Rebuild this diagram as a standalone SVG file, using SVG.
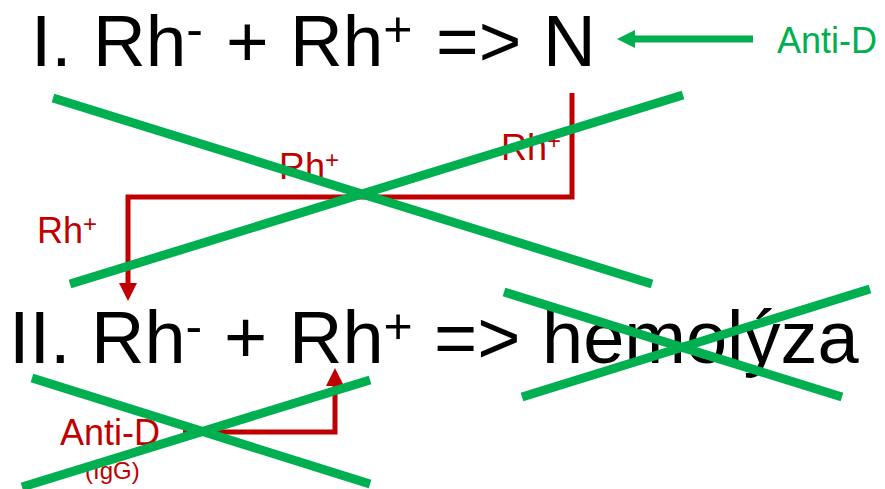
<svg xmlns="http://www.w3.org/2000/svg" width="885" height="489" viewBox="0 0 885 489">
  <style>
    .t { font-family: "Liberation Sans", Arial, sans-serif; }
    .big { font-size: 74px; fill: #000; }
    .big1 { font-size: 73px; fill: #000; }
    .sup { font-size: 50px; }
    .red { fill: #C00000; font-size: 36px; }
    .rsup { font-size: 24px; }
    .grn { fill: #00B050; font-size: 36px; }
    .rline { fill: none; stroke: #C00000; stroke-width: 5; stroke-linejoin: miter; stroke-linecap: butt; }
    .gline { fill: none; stroke: #00B050; stroke-width: 7; }
    .strike { stroke: #00B050; stroke-width: 9; stroke-linecap: butt; }
  </style>
  <defs>
    <marker id="ar" markerUnits="userSpaceOnUse" viewBox="0 0 18 18" refX="2" refY="9" markerWidth="18" markerHeight="18" orient="auto">
      <path d="M0,0 L18,9 L0,18 z" fill="#C00000"/>
    </marker>
    <marker id="ag" markerUnits="userSpaceOnUse" viewBox="0 0 18 18" refX="2" refY="9" markerWidth="18" markerHeight="18" orient="auto">
      <path d="M0,0 L18,9 L0,18 z" fill="#00B050"/>
    </marker>
  </defs>

  <g id="title1">
    <text class="t big1" y="66"><tspan x="31">I.</tspan><tspan x="93">Rh</tspan><tspan class="sup" dy="-20">-</tspan><tspan x="226" dy="20">+</tspan><tspan x="290">Rh</tspan><tspan class="sup" dy="-20">+</tspan><tspan x="436" dy="20">=&gt;</tspan><tspan x="543">N</tspan></text>
  </g>

  <g id="title2">
    <text class="t big" y="363"><tspan x="9">II.</tspan><tspan x="91">Rh</tspan><tspan class="sup" dy="-20">-</tspan><tspan x="224" dy="20">+</tspan><tspan x="289">Rh</tspan><tspan class="sup" dy="-20">+</tspan><tspan x="434" dy="20">=&gt;</tspan><tspan x="542">hemolýza</tspan></text>
  </g>

  <g id="label-antiD-green">
    <text class="t grn" x="777" y="53">Anti-D</text>
  </g>

  <g id="label-rh-right">
    <text class="t red" x="501" y="160">Rh<tspan class="rsup" dy="-11">+</tspan></text>
  </g>
  <g id="label-rh-mid">
    <text class="t red" x="279" y="179">Rh<tspan class="rsup" dy="-11">+</tspan></text>
  </g>
  <g id="label-rh-left">
    <text class="t red" x="37" y="243">Rh<tspan class="rsup" dy="-11">+</tspan></text>
  </g>
  <g id="label-antiD-red">
    <text class="t red" x="60" y="445">Anti-D</text>
    <text class="t red" x="85" y="479" style="font-size:24px">(IgG)</text>
  </g>

  <g id="connectors">
    <path class="gline" d="M753,39 H633" marker-end="url(#ag)"/>
    <path class="rline" d="M572,93 V197 H128 V285" marker-end="url(#ar)"/>
    <path class="rline" d="M183,432 H335 V384" marker-end="url(#ar)"/>
  </g>

  <g id="strikes">
    <line class="strike" x1="53" y1="98" x2="652" y2="284"/>
    <line class="strike" x1="70" y1="284" x2="683" y2="95"/>
    <line class="strike" x1="32" y1="378" x2="370" y2="484"/>
    <line class="strike" x1="22" y1="487" x2="370" y2="380"/>
    <line class="strike" x1="504" y1="292" x2="842" y2="397"/>
    <line class="strike" x1="522" y1="397" x2="870" y2="289"/>
  </g>
</svg>
